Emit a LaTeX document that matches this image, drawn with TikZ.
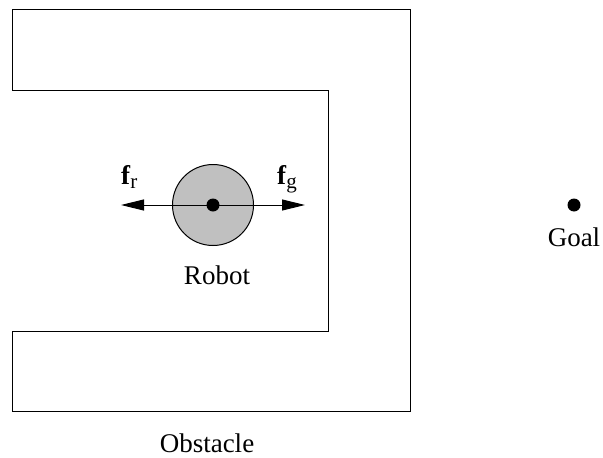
\documentclass[tikz,border=0pt]{standalone}
\usepackage{fontspec}
\setmainfont{Liberation Serif}
\usetikzlibrary{arrows.meta}
\newcommand{\forcelabel}[1]{{\fontsize{27}{30}\selectfont\textbf{f}}{\fontsize{21}{24}\selectfont\raisebox{-4pt}{#1}}}
\begin{document}
\begin{tikzpicture}[x=1pt,y=-1pt,
  wall/.style={draw=black,line width=1pt},
  lbl/.style={font=\fontsize{27}{30}\selectfont,anchor=base,inner sep=0pt},
  flbl/.style={anchor=base west,inner sep=0pt},
  dot/.style={circle,fill=black,inner sep=0pt,minimum size=13pt},
  force/.style={line width=1pt,-{Triangle[length=23pt,width=11pt]}}]
\useasboundingbox (0,0) rectangle (603,458);
\draw[wall] (12,9) -- (410,9) -- (410,411) -- (12,411) -- (12,331) -- (328,331) -- (328,90) -- (12,90) -- cycle;
\node[circle,draw=black,line width=1pt,fill={rgb,255:red,192;green,192;blue,192},minimum size=81pt,inner sep=0pt] (robot) at (213,205) {};
\node[dot] (rc) at (213,205) {};
\coordinate (fr) at (121,205);
\coordinate (fg) at (305,205);
\draw[force] (rc.center) -- (fr);
\draw[force] (rc.center) -- (fg);
\node[flbl] (lfr) at (121,184) {\forcelabel{r}};
\node[flbl] (lfg) at (277,184) {\forcelabel{g}};
\node[lbl] (lrobot) at (217,284) {Robot};
\node[dot] (goal) at (574,205) {};
\node[lbl] (lgoal) at (574,246) {Goal};
\node[lbl] (lobst) at (207,452) {Obstacle};
\end{tikzpicture}
\end{document}
